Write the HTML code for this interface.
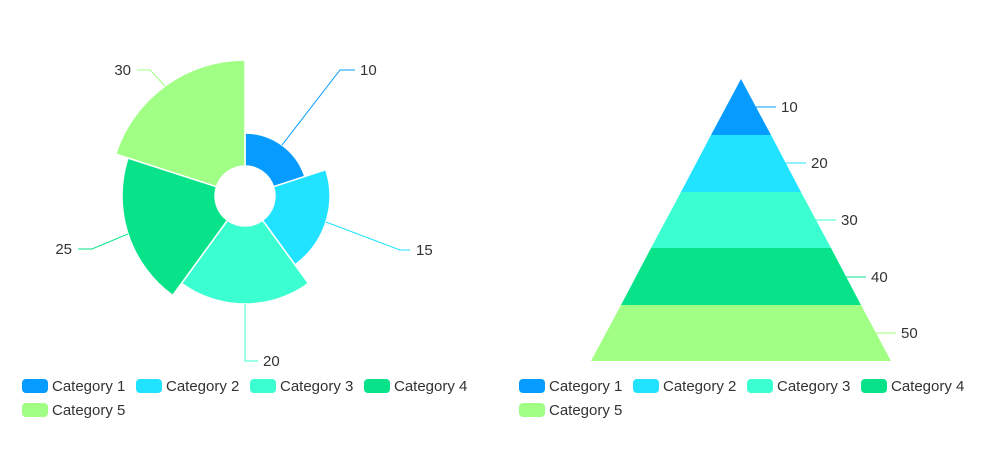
<!DOCTYPE html>
<html><head><meta charset="utf-8"><style>
body{margin:0;background:#fff;width:983px;height:455px;overflow:hidden}
svg{display:block}
text{font-family:"Liberation Sans",sans-serif;font-size:15px;fill:#333}
</style></head><body>
<svg width="983" height="455" viewBox="0 0 983 455">
<g stroke="#fff" stroke-width="1.5" stroke-linejoin="round">
<path fill="#069cff" d="M245,166 L245,133 A63,63 0 0 1 304.9,176.5 L273.5,186.7 A30,30 0 0 0 245,166Z"/>
<path fill="#22e3ff" d="M273.5,186.7 L325.8,169.7 A85,85 0 0 1 295,264.8 L262.6,220.3 A30,30 0 0 0 273.5,186.7Z"/>
<path fill="#3cffd1" d="M262.6,220.3 L308.5,283.4 A108,108 0 0 1 181.5,283.4 L227.4,220.3 A30,30 0 0 0 262.6,220.3Z"/>
<path fill="#08e38a" d="M227.4,220.3 L172.7,295.5 A123,123 0 0 1 128,158 L216.5,186.7 A30,30 0 0 0 227.4,220.3Z"/>
<path fill="#a0ff84" d="M216.5,186.7 L115.7,154 A136,136 0 0 1 245,60 L245,166 A30,30 0 0 0 216.5,186.7Z"/>
</g>
<g fill="none" stroke-width="1">
<polyline stroke="#069cff" points="282,145 340,70 355,70"/>
<polyline stroke="#22e3ff" points="326,222 400,250 410,250"/>
<polyline stroke="#3cffd1" points="245,304 245,361 258,361"/>
<polyline stroke="#08e38a" points="128,234 92,249 78,249"/>
<polyline stroke="#a0ff84" points="165,86 150,70 137,70"/>
</g>
<text x="360" y="75">10</text>
<text x="416" y="255">15</text>
<text x="263" y="366">20</text>
<text x="72" y="254" text-anchor="end">25</text>
<text x="131" y="75" text-anchor="end">30</text>

<polygon fill="#069cff" points="741,79 771,135 711,135"/>
<polygon fill="#22e3ff" points="711,135 771,135 801,192 681,192"/>
<polygon fill="#3cffd1" points="681,192 801,192 831,248 651,248"/>
<polygon fill="#08e38a" points="651,248 831,248 861,305 621,305"/>
<polygon fill="#a0ff84" points="621,305 861,305 891,361 591,361"/>
<g stroke-width="1">
<line x1="756" y1="107" x2="776" y2="107" stroke="#069cff"/>
<line x1="786" y1="163" x2="806" y2="163" stroke="#22e3ff"/>
<line x1="816" y1="220" x2="836" y2="220" stroke="#3cffd1"/>
<line x1="846" y1="277" x2="866" y2="277" stroke="#08e38a"/>
<line x1="876" y1="333" x2="896" y2="333" stroke="#a0ff84"/>
</g>
<text x="781" y="112">10</text>
<text x="811" y="168">20</text>
<text x="841" y="225">30</text>
<text x="871" y="282">40</text>
<text x="901" y="338">50</text>

<g>
<rect x="22" y="379" width="26" height="14" rx="4" fill="#069cff"/><text x="52" y="391">Category 1</text>
<rect x="136" y="379" width="26" height="14" rx="4" fill="#22e3ff"/><text x="166" y="391">Category 2</text>
<rect x="250" y="379" width="26" height="14" rx="4" fill="#3cffd1"/><text x="280" y="391">Category 3</text>
<rect x="364" y="379" width="26" height="14" rx="4" fill="#08e38a"/><text x="394" y="391">Category 4</text>
<rect x="22" y="403" width="26" height="14" rx="4" fill="#a0ff84"/><text x="52" y="415">Category 5</text>
<rect x="519" y="379" width="26" height="14" rx="4" fill="#069cff"/><text x="549" y="391">Category 1</text>
<rect x="633" y="379" width="26" height="14" rx="4" fill="#22e3ff"/><text x="663" y="391">Category 2</text>
<rect x="747" y="379" width="26" height="14" rx="4" fill="#3cffd1"/><text x="777" y="391">Category 3</text>
<rect x="861" y="379" width="26" height="14" rx="4" fill="#08e38a"/><text x="891" y="391">Category 4</text>
<rect x="519" y="403" width="26" height="14" rx="4" fill="#a0ff84"/><text x="549" y="415">Category 5</text>
</g>
</svg>
</body></html>
